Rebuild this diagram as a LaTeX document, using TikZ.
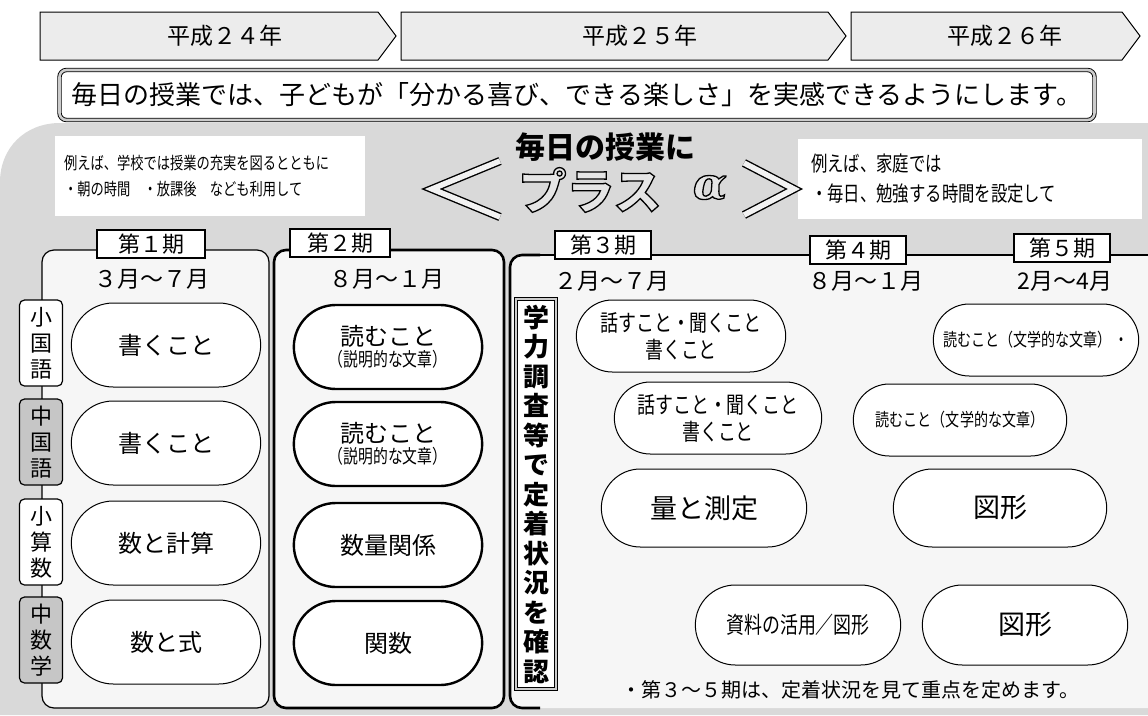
\documentclass[tikz,border=0pt]{standalone}
\usepackage{fontspec}
\setmainfont{Noto Sans CJK JP}
\newfontfamily\estrecha[FakeStretch=0.78]{Noto Sans CJK JP}
\newfontfamily\griega{DejaVu Serif}
\usetikzlibrary{shapes.misc}
\newcommand\tam[1]{\fontsize{#1}{#1}\selectfont}
\newcommand\hueca[1]{\special{pdf:literal direct 2 Tr 1.3 w 0 G}#1\special{pdf:literal direct 0 Tr}}

\begin{document}
\begin{tikzpicture}[x=1pt,y=-1pt]
\tikzset{
    pildora/.style={draw, rounded rectangle, fill=white, line width=1pt, minimum width=196pt, minimum height=84pt, align=center, font=\tam{24}},
    gruesa/.style={pildora, line width=2.4pt, minimum width=195pt},
    estrecho/.style={pildora, font=\estrecha\fontsize{23}{27}\selectfont, minimum height=72pt},
    periodo/.style={draw, fill=white, line width=1.2pt, minimum width=96pt, minimum height=28pt, font=\tam{22}},
    mes/.style={font=\tam{23}},
    materia/.style={draw, rounded corners=5pt, line width=1.2pt, minimum width=43pt, minimum height=86pt, align=center, font=\fontsize{22}{26}\selectfont, inner sep=1pt},
    caja/.style={fill=white, minimum height=80pt, align=left}
}
\useasboundingbox (0,0) rectangle (1148,715);
% fondo
\fill[gray!30] (0,715) -- (0,182) .. controls (0,148) and (25,123) .. (60,123) -- (1148,123) -- (1148,715) -- cycle;
% años
\foreach \xa/\xb/\xc/\xt/\ano/\nm in {40/378/396/225/２４/a1, 401/828/846/640/２５/a2, 851/1122/1140/1005/２６/a3}{
  \filldraw[fill=gray!15, line width=1pt] (\xa,12) -- (\xb,12) -- (\xc,36) -- (\xb,60) -- (\xa,60) -- cycle;
  \node[font=\tam{23}] (\nm) at (\xt,36) {平成\ano 年};
}
\node[draw, double=gray!40, double distance=2.6pt, line width=0.9pt, rounded corners=7pt, fill=white, minimum width=1035pt, minimum height=50pt, inner sep=2pt, font=\tam{26}] (lema) at (577,95) {毎日の授業では、子どもが「分かる喜び、できる楽しさ」を実感できるようにします。};
\node[caja, minimum width=310pt, text width=292pt, font=\estrecha\fontsize{17}{26}\selectfont] (escuela) at (210,176) {例えば、学校では授業の充実を図るとともに\\・朝の時間　・放課後　なども利用して};
\node[caja, minimum width=344pt, text width=318pt, font=\estrecha\fontsize{21}{30}\selectfont] (casa) at (970,179) {例えば、家庭では\\・毎日、勉強する時間を設定して};
% plus alfa
\node[font=\bfseries\tam{30}] (diario) at (605,147) {毎日の授業に};
\draw[double=gray!10, double distance=5.5pt, line width=1.4pt, line join=miter] (500,161) -- (432,189) -- (500,217);
\draw[double=gray!10, double distance=5.5pt, line width=1.4pt, line join=miter] (744,163) -- (794,189) -- (744,215);
\node[font=\bfseries\tam{48}, text=gray!20] (plus) at (590,190) {\hueca{プラス}};
\node[font=\griega\bfseries\itshape\tam{44}, text=gray!20] (alfa) at (710,188) {\hueca{α}};
% paneles
\filldraw[fill=gray!7, line width=1.2pt, rounded corners=12pt] (42,250) rectangle (269,708);
\filldraw[fill=gray!7, line width=2.6pt, rounded corners=12pt] (274,250) rectangle (504,708);
\fill[gray!7, rounded corners=12pt] (1170,255) -- (510,255) -- (510,708) -- (1170,708) -- cycle;
\draw[line width=1.2pt] (525,255) -- (1148,255);
\draw[line width=2.6pt, rounded corners=12pt] (540,255) -- (510,255) -- (510,708) -- (540,708);
\node[periodo, minimum width=108pt] (p1) at (151,244) {第１期};
\node[periodo, line width=2.6pt, minimum width=100pt] (p2) at (340,243) {第２期};
\node[periodo] (p3) at (603,245) {第３期};
\node[periodo] (p4) at (858,250) {第４期};
\node[periodo] (p5) at (1062,248) {第５期};
\node[mes] (m1) at (152,279) {３月～７月};
\node[mes] (m2) at (387,279) {８月～１月};
\node[mes] (m3) at (612,281) {２月～７月};
\node[mes] (m4) at (866,281) {８月～１月};
\node[mes] (m5) at (1065,281) {2月～4月};
% materias
\node[materia, fill=white] (t1) at (41,343) {小\\国\\語};
\node[materia, fill=gray!45] (t2) at (41,442) {中\\国\\語};
\node[materia, fill=white] (t3) at (41,542) {小\\算\\数};
\node[materia, fill=gray!45] (t4) at (41,640) {中\\数\\学};
% primer y segundo periodo
\node[pildora] (s1) at (166,345) {書くこと};
\node[pildora] (s2) at (166,443) {書くこと};
\node[pildora] (s3) at (166,543) {数と計算};
\node[pildora] (s4) at (166,642) {数と式};
\node[gruesa] (u1) at (388,347) {読むこと\\[-3pt]{\estrecha\tam{19}（説明的な文章）}};
\node[gruesa] (u2) at (388,444) {読むこと\\[-3pt]{\estrecha\tam{19}（説明的な文章）}};
\node[gruesa] (u3) at (388,545) {数量関係};
\node[gruesa] (u4) at (388,643) {関数};
% tercer a quinto periodo
\node[draw, double=gray!40, double distance=2pt, line width=1.2pt, fill=white, minimum width=40pt, minimum height=390pt, align=center, font=\bfseries\fontsize{26}{29.5}\selectfont, inner sep=1pt] (prueba) at (536,494) {学\\力\\調\\査\\等\\で\\定\\着\\状\\況\\を\\確\\認};
\node[estrecho, minimum width=216pt] (v1) at (681,336) {話すこと・聞くこと\\書くこと};
\node[estrecho, minimum width=212pt, font=\estrecha\tam{18}] (v2) at (1036,340) {読むこと（文学的な文章）\ ・};
\node[estrecho, minimum width=214pt] (v3) at (718,418) {話すこと・聞くこと\\書くこと};
\node[estrecho, minimum width=220pt, font=\estrecha\tam{18}] (v4) at (960,420) {読むこと（文学的な文章）};
\node[pildora, minimum width=212pt, minimum height=78pt, font=\tam{27}] (v5) at (704,508) {量と測定};
\node[pildora, minimum width=220pt, minimum height=78pt, font=\tam{27}] (v6) at (1000,508) {図形};
\node[estrecho, minimum width=212pt, minimum height=80pt, font=\estrecha\tam{23}] (v7) at (798,625) {資料の活用／図形};
\node[pildora, minimum width=212pt, minimum height=80pt, font=\tam{27}] (v8) at (1025,625) {図形};
\node[font=\tam{20}] (nota) at (850,690) {・第３～５期は、定着状況を見て重点を定めます。};
\end{tikzpicture}
\end{document}
